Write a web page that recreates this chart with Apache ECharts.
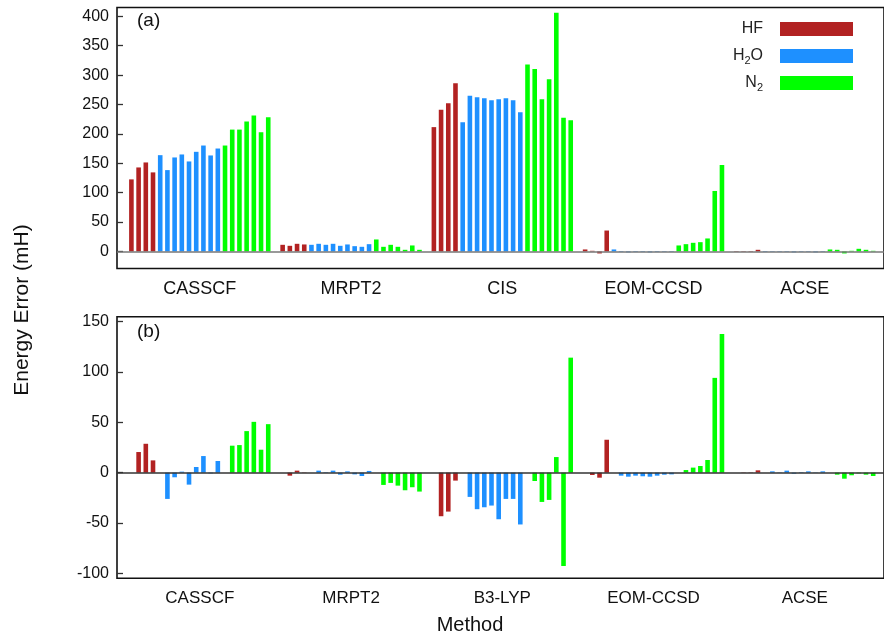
<!DOCTYPE html>
<html>
<head>
<meta charset="utf-8">
<script src="https://cdn.jsdelivr.net/npm/echarts@6/dist/echarts.min.js"></script>
<style>
  html, body { margin: 0; padding: 0; background: #fff; }
  #chart { width: 884px; height: 636px; }
</style>
</head>
<body>
<div id="chart"></div>
<script>
// Method labels for the two panels
const methodsTotal = ['CASSCF', 'MRPT2', 'CIS', 'EOM-CCSD', 'ACSE'];
const methodsRel = ['CASSCF', 'MRPT2', 'B3-LYP', 'EOM-CCSD', 'ACSE'];

// y tick values
const ticksTotal = [0, 50, 100, 150, 200, 250, 300, 350, 400];
const ticksRel = [-100, -50, 0, 50, 100, 150];

// (a) energy errors (mH) per method, one entry per geometry
const hfTotal = [
  [122.6, 142.9, 151.4, 134.5],
  [11.3, 9.6, 13.0, 11.9],
  [211.5, 240.9, 252.3, 286.2],
  [3.4, 1.1, -3.4, 35.6],
  [0.8, 0.8, 0.8, 2.8]
];
const h2oTotal = [
  [163.8, 138.4, 159.9, 165.0, 153.1, 169.5, 180.2, 163.3, 175.1],
  [11.3, 13.0, 11.3, 13.0, 9.6, 11.9, 9.0, 7.9, 12.4],
  [220.0, 264.7, 262.4, 260.7, 257.4, 259.0, 260.7, 257.4, 237.0],
  [3.4, -1.0, -1.5, -1.0, -1.0, -1.5, -1.0, -0.8, -0.8],
  [-1.0, -0.8, -0.8, -0.8, -1.5, -0.8, -0.8, -1.5, -0.8]
];
const n2Total = [
  [180.2, 207.3, 207.3, 220.9, 231.1, 202.8, 228.2],
  [20.4, 7.9, 11.3, 7.9, 2.8, 10.2, 2.8],
  [317.9, 310.5, 259.0, 293.0, 406.1, 227.4, 223.4],
  [10.2, 12.4, 14.7, 15.8, 22.1, 102.9, 147.1],
  [3.4, 2.8, -3.4, 1.1, 4.5, 2.8, 1.1]
];

// (b) errors relative to the first geometry of each molecule (mH)
const hfRel = [
  [0, 20.5, 28.7, 12.2],
  [0, -3.0, 2.0, -0.3],
  [0, -43.3, -38.7, -7.9],
  [0, -2.3, -5.0, 32.7],
  [0, 0.3, 0.3, 2.3]
];
const h2oRel = [
  [0, -26.1, -4.6, 1.0, -11.9, 5.6, 16.5, -0.7, 11.6],
  [0, 2.0, 0.5, 2.0, -2.0, 1.3, -1.7, -3.3, 1.7],
  [0, -24.1, -36.3, -34.4, -32.7, -46.3, -26.1, -26.1, -51.5],
  [0, -3.0, -4.0, -3.0, -3.6, -4.0, -3.0, -2.0, -1.7],
  [0, 1.3, 0.3, 2.0, -1.0, 0.5, 1.3, -0.3, 1.3]
];
const n2Rel = [
  [0, 26.8, 27.4, 41.3, 50.5, 22.8, 48.2],
  [0, -12.2, -10.2, -12.9, -17.5, -14.5, -18.8],
  [0, -8.3, -29.1, -27.1, 15.5, -92.8, 114.3],
  [0, 2.6, 5.0, 6.6, 12.6, 94.2, 137.8],
  [0, -2.0, -6.0, -2.6, -0.7, -2.0, -3.3]
];

const FONT = '"Liberation Sans", Arial, Helvetica, sans-serif';
const COLORS = { HF: '#b22222', H2O: '#1e90ff', N2: '#00ff00' };
const GROUP = 21;                       // slots per method (20 bars + gap)
const OFFSET = { HF: 0, H2O: 4, N2: 13 };
const centers = [0, 1, 2, 3, 4].map(g => g * GROUP + 9.5);

// turn per-method arrays into [slot, value] pairs
function toPairs(groups, start) {
  const out = [];
  groups.forEach((vals, g) => {
    vals.forEach((v, i) => out.push([g * GROUP + start + i, v]));
  });
  return out;
}

function barSeries(name, groups, idx, zeroColor) {
  const s = {
    name: name,
    type: 'bar',
    xAxisIndex: idx,
    yAxisIndex: idx,
    barWidth: 4.6,
    barGap: '-100%',
    itemStyle: { color: COLORS[name] },
    data: toPairs(groups, OFFSET[name])
  };
  if (name === 'HF') {
    s.markLine = {
      silent: true,
      symbol: 'none',
      label: { show: false },
      lineStyle: { color: zeroColor, width: 1.6, type: 'solid' },
      data: [{ yAxis: 0 }]
    };
  }
  return s;
}

function xAxisFor(idx, labels, size) {
  return {
    type: 'value',
    gridIndex: idx,
    min: -2,
    max: 104.5,
    splitLine: { show: false },
    axisLine: { show: false, onZero: false },
    axisTick: { show: false },
    axisLabel: {
      customValues: centers,
      formatter: v => labels[Math.round((v - 9.5) / GROUP)],
      fontFamily: FONT,
      fontSize: size,
      color: '#111',
      margin: 12
    }
  };
}

function yAxisFor(idx, min, max, ticks) {
  return {
    type: 'value',
    gridIndex: idx,
    min: min,
    max: max,
    splitLine: { show: false },
    axisLine: { show: false, onZero: false },
    axisTick: {
      show: true, inside: true, length: 6,
      customValues: ticks,
      lineStyle: { color: '#333', width: 1.3 }
    },
    axisLabel: {
      customValues: ticks,
      fontFamily: FONT,
      fontSize: 16,
      color: '#111',
      margin: 8
    }
  };
}

const subRich = {
  m: { fontFamily: FONT, fontSize: 16, color: '#222', lineHeight: 20 },
  s: { fontFamily: FONT, fontSize: 11, color: '#222', lineHeight: 11, verticalAlign: 'bottom' }
};

const option = {
  animation: false,
  backgroundColor: '#fff',
  grid: [
    { left: 117, top: 7.5, width: 771, height: 261, show: true,
      borderColor: '#111', borderWidth: 1.6, backgroundColor: 'transparent' },
    { left: 117, top: 316.7, width: 771, height: 261.6, show: true,
      borderColor: '#111', borderWidth: 1.6, backgroundColor: 'transparent' }
  ],
  xAxis: [xAxisFor(0, methodsTotal, 18), xAxisFor(1, methodsRel, 17)],
  yAxis: [yAxisFor(0, -29, 415, ticksTotal), yAxisFor(1, -105, 155, ticksRel)],
  legend: {
    orient: 'vertical',
    align: 'right',
    right: 31,
    top: 21,
    padding: 0,
    itemGap: 9,
    itemWidth: 73,
    itemHeight: 14,
    icon: 'rect',
    data: ['HF', 'H2O', 'N2'],
    formatter: n => n === 'H2O' ? '{m|H}{s|2}{m|O}' : n === 'N2' ? '{m|N}{s|2}' : '{s| }{m|' + n + '}',
    textStyle: { rich: subRich, padding: [0, 12, 0, 0] }
  },
  graphic: [
    { type: 'text', left: 137, top: 11, style: { text: '(a)', font: '19px ' + FONT, fill: '#111' } },
    { type: 'text', left: 137, top: 322, style: { text: '(b)', font: '19px ' + FONT, fill: '#111' } },
    { type: 'text', x: 22, y: 310, rotation: Math.PI / 2,
      style: { text: 'Energy Error (mH)', font: '21px ' + FONT, fill: '#111', align: 'center', verticalAlign: 'middle' } },
    { type: 'text', x: 470, y: 625,
      style: { text: 'Method', font: '20px ' + FONT, fill: '#111', align: 'center', verticalAlign: 'middle' } }
  ],
  series: [
    barSeries('HF', hfTotal, 0, '#777'),
    barSeries('H2O', h2oTotal, 0),
    barSeries('N2', n2Total, 0),
    barSeries('HF', hfRel, 1, '#333'),
    barSeries('H2O', h2oRel, 1),
    barSeries('N2', n2Rel, 1)
  ]
};

const chart = echarts.init(document.getElementById('chart'), null, { renderer: 'canvas' });
chart.setOption(option);
</script>
</body>
</html>
